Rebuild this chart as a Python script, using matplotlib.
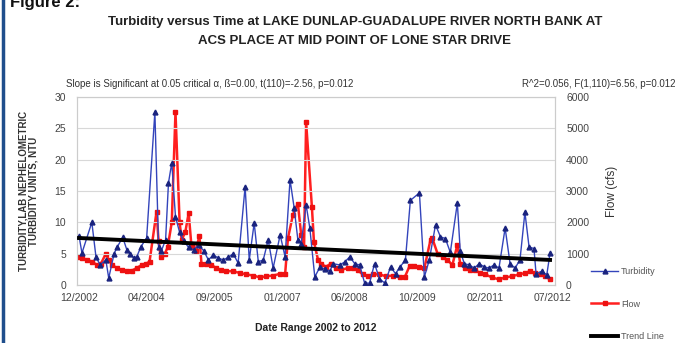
import matplotlib
matplotlib.use("Agg")
import matplotlib.pyplot as plt
from matplotlib.lines import Line2D

plt.rcParams['font.family'] = ['Liberation Sans', 'DejaVu Sans']

# months since 12/2002
turb_months = [0, 0.7, 3.1, 4.1, 5.1, 6.5, 7.2, 8.5, 9.2, 10.6, 11.6, 12.3, 13.3, 14, 15, 16.4,
               18.4, 19.3, 20, 21, 21.7, 22.5, 23.4, 24.4, 25.4, 26.6, 27.8, 29, 30.2, 31.4,
               32.6, 33.8, 35, 36.2, 37.4, 38.6, 40.3, 41.3, 42.5, 43.5, 44.7, 45.9, 47.1,
               48.8, 50, 51.2, 52.2, 53.1, 53.9, 55.1, 56, 57.2, 58.5, 59.7, 60.9, 61.6, 63.3,
               64.5, 65.7, 66.9, 68.1, 69.3, 70.5, 71.7, 72.9, 74.2, 75.6, 76.8, 77.8, 79.2,
               80.4, 82.6, 83.8, 85, 86.5, 87.7, 88.9, 90.1, 91.8, 92.5, 93.5, 94.7, 95.9,
               97.1, 98.3, 99.5, 100.7, 101.9, 103.4, 104.6, 105.8, 107, 108.2, 109.2, 110.4,
               110.9, 112.3, 113.5, 114.3]
turbidity = [7.8, 5.1, 10.0, 4.5, 3.2, 4.0, 1.1, 5.0, 6.0, 7.6, 5.6, 5.0, 4.3, 4.5, 6.1, 7.5,
             27.6, 6.1, 5.5, 7.2, 16.3, 19.5, 10.9, 8.4, 7.0, 6.0, 5.6, 6.4, 5.5, 4.0,
             4.8, 4.3, 4.0, 4.4, 5.0, 3.5, 15.7, 4.0, 9.9, 3.7, 4.0, 7.2, 2.7,
             8.0, 4.5, 16.8, 12.3, 7.2, 6.6, 12.8, 9.1, 1.3, 2.9, 2.5, 2.2, 3.4, 3.2,
             3.7, 4.5, 3.4, 3.2, 0.3, 0.3, 3.4, 1.0, 0.3, 2.9, 1.8, 2.8, 4.0,
             13.5, 14.7, 1.3, 4.0, 9.6, 7.7, 7.4, 5.2, 13.1, 5.4, 3.4, 3.2, 2.7,
             3.4, 2.9, 2.7, 3.2, 2.7, 9.1, 3.4, 2.7, 4.0, 11.6, 6.1, 5.8,
             1.8, 2.2, 1.6, 5.1]

flow_months = [0, 0.7, 1.9, 3.1, 4.3, 5.3, 6.5, 7.2, 8, 9.2, 10.4, 11.6, 12.8, 14, 15.2, 16.2,
               17.1, 18.8, 19.3, 19.8, 20.8, 21.5, 22.5, 23.4, 24.4, 24.9, 25.8, 26.6, 27.3,
               28.3, 29.2, 29.7, 30.9, 32.1, 33.3, 34.5, 35.7, 37.4, 39.1, 40.6, 42.3, 44,
               45.4, 47.1, 48.8, 50, 50.7, 51.9, 53.1, 53.9, 54.6, 55.1, 56.5, 57, 58, 58.7,
               59.9, 61.1, 62.3, 63.5, 65.2, 66.4, 67.6, 68.8, 70, 71.3, 72.9, 74.4, 76.1,
               77.8, 79, 80.2, 81.4, 82.6, 83.8, 85.3, 85.7, 87, 88.2, 89.4, 90.6, 91.8,
               92.5, 93.7, 94.9, 96.1, 97.3, 98.6, 100.2, 101.9, 103.4, 105.1, 106.8, 108.2,
               109.4, 110.6, 111.8, 113, 114.3]
flow = [900, 850, 800, 750, 640, 680, 1000, 800, 640, 540, 480, 460, 460, 540, 640, 680,
        740, 2340, 1400, 900, 1000, 1200, 2000, 5520, 2000, 1440, 1700, 2300, 1200,
        1100, 1560, 680, 680, 640, 540, 480, 440, 440, 380, 340, 300, 240,
        280, 300, 360, 340, 1500, 2240, 2600, 1600, 1200, 5200, 2500, 1380, 800, 680,
        580, 680, 540, 480, 540, 540, 480, 340, 280, 340, 340, 280, 300,
        240, 240, 600, 600, 560, 540, 1450, 1500, 1000, 900, 800, 640, 1280,
        680, 540, 480, 480, 380, 340, 240, 180, 240, 280, 340, 380,
        440, 380, 340, 280, 180]

trend_months = [0, 114.3]
trend_values = [7.5, 4.0]

tick_months = [0, 16.4, 32.9, 49.3, 65.7, 82.1, 98.6, 115]
tick_labels = ['12/2002', '04/2004', '09/2005', '01/2007', '06/2008', '10/2009', '02/2011', '07/2012']

W, H = 682, 343
fig = plt.figure(figsize=(W / 100, H / 100), dpi=100)
ax = fig.add_axes([77 / W, 1 - 285 / H, (555 - 77) / W, (285 - 97) / H])
ax2 = ax.twinx()

ax.set_xlim(-0.5, 115.5)
ax.set_ylim(0, 30)
ax2.set_ylim(0, 6000)
ax.set_yticks(range(0, 31, 5))
ax2.set_yticks(range(0, 6001, 1000))
ax.grid(axis='y', color='#d8d8d8', lw=0.8)
ax.set_axisbelow(True)

l_turb, = ax.plot(turb_months, turbidity, color='#3344bb', lw=1.0, marker='^', ms=3.5,
                  mfc='#1a237e', mec='#1a237e', zorder=3)
l_flow, = ax2.plot(flow_months, flow, color='#ff2020', lw=1.8, marker='s', ms=3.2,
                   mfc='#ee1111', mec='#ee1111', zorder=2)
l_trend, = ax.plot(trend_months, trend_values, color='black', lw=2.8, zorder=4)
ax.set_zorder(ax2.get_zorder() + 1)
ax.patch.set_visible(False)

ax.set_xticks(tick_months)
ax.set_xticklabels(tick_labels)
for a in (ax, ax2):
    a.tick_params(length=0, labelsize=7.5, labelcolor='#444444')
    for s in a.spines.values():
        s.set_color('#cccccc')
        s.set_linewidth(0.8)
ax.tick_params(axis='x', pad=6)
ax.tick_params(axis='y', pad=8)
ax2.tick_params(axis='y', pad=8)

ax.set_ylabel('TURBIDITY,LAB NEPHELOMETRIC\nTURBIDITY UNITS, NTU', fontsize=7,
              fontweight='bold', color='#333333', labelpad=11, linespacing=1.1)
ax2.set_ylabel('Flow (cfs)', fontsize=8.5, color='#333333', labelpad=12)
ax.set_xlabel('Date Range 2002 to 2012', fontsize=7.5, fontweight='bold',
              color='#222222', labelpad=14)

fig.text(355 / W, 1 - 22 / H, 'Turbidity versus Time at LAKE DUNLAP-GUADALUPE RIVER NORTH BANK AT',
         ha='center', va='center', fontsize=9.5, fontweight='bold', color='#222222')
fig.text(355 / W, 1 - 41 / H, 'ACS PLACE AT MID POINT OF LONE STAR DRIVE',
         ha='center', va='center', fontsize=9.5, fontweight='bold', color='#222222')
fig.text(66 / W, 1 - 84 / H,
         'Slope is Significant at 0.05 critical \u03b1, \u00df=0.00, t(110)=-2.56, p=0.012',
         ha='left', va='center', fontsize=7, color='#333333')
fig.text(676 / W, 1 - 84 / H, 'R^2=0.056, F(1,110)=6.56, p=0.012',
         ha='right', va='center', fontsize=7, color='#333333')
fig.text(10 / W, 1 - 2 / H, 'Figure 2:', ha='left', va='center', fontsize=12,
         fontweight='bold', color='#111111')

fig.legend([l_turb, l_flow, l_trend], ['Turbidity', 'Flow', 'Trend Line'],
           loc='upper left', bbox_to_anchor=(583 / W, 1 - 259 / H), frameon=False,
           fontsize=6.5, labelspacing=2.6, handlelength=3.0, handletextpad=0.3,
           labelcolor='#555555')

fig.add_artist(Line2D([3 / W, 3 / W], [0, 1], transform=fig.transFigure,
                      color='#1f4e8c', lw=2.5))

fig.savefig('out.png', dpi=100)
